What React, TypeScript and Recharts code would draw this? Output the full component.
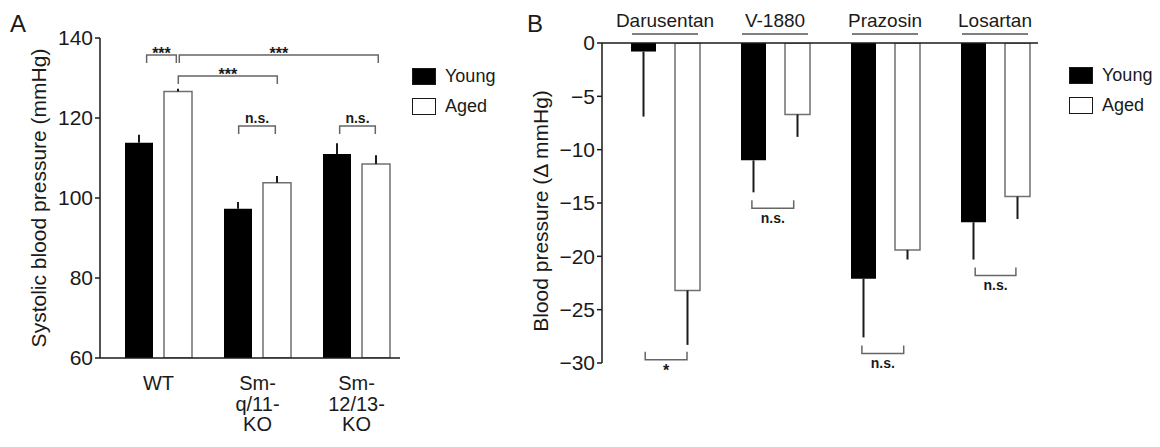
import { BarChart, Bar, XAxis, YAxis, ErrorBar, ReferenceLine, Legend } from "recharts";

const FONT = "'Liberation Sans', Arial, Helvetica, sans-serif";
const INK = "#1a1a1a";
const OUTLINE = "#707070";
const SERIES = ["Young", "Aged"];

// Panel A: systolic blood pressure, young vs aged
const groupsA = ["WT", "Sm-q/11-KO", "Sm-12/13-KO"];
const youngA = [113.8, 97.3, 111.0];
const youngSemA = [2.0, 1.7, 2.7];
const agedA = [126.6, 103.8, 108.5];
const agedSemA = [0.7, 1.7, 2.2];
const ticksA = [60, 80, 100, 120, 140];

// comparisons drawn over panel A (x in category index units, y in mmHg)
const bracketsA = [
  { from: -0.12, to: 0.18, y: 135.75, label: "***" },
  { from: 0.21, to: 2.22, y: 135.75, label: "***" },
  { from: 0.2, to: 1.2, y: 130.5, label: "***" },
  { from: 0.81, to: 1.18, y: 118, label: "n.s." },
  { from: 1.83, to: 2.19, y: 118, label: "n.s." },
];

// Panel B: change in blood pressure after each drug
const drugsB = ["Darusentan", "V-1880", "Prazosin", "Losartan"];
const youngB = [-0.8, -11.0, -22.1, -16.8];
const youngSemB = [6.1, 3.0, 5.5, 3.5];
const agedB = [-23.2, -6.7, -19.4, -14.4];
const agedSemB = [5.1, 2.1, 0.9, 2.1];
const ticksB = [0, -5, -10, -15, -20, -25, -30];

const bracketsB = [
  { from: -0.18, to: 0.2, y: -29.7, label: "*" },
  { from: 0.79, to: 1.17, y: -15.5, label: "n.s." },
  { from: 1.79, to: 2.17, y: -29.1, label: "n.s." },
  { from: 2.82, to: 3.19, y: -21.8, label: "n.s." },
];

const rowsA = groupsA.map((group, i) => ({
  group,
  young: youngA[i],
  aged: agedA[i],
  youngErr: [0, youngSemA[i]],
  agedErr: [0, agedSemA[i]],
}));

const rowsB = drugsB.map((drug, i) => ({
  drug,
  young: youngB[i],
  aged: agedB[i],
  youngErr: [youngSemB[i], 0],
  agedErr: [agedSemB[i], 0],
}));

// plot geometry: band axis padding, and the matching padding for an index axis
// whose 0..n-1 land on band centres
const PLOT_W_A = 300;
const PAD_A = { left: 9, right: -6 };
const BAND_A = (PLOT_W_A - PAD_A.left - PAD_A.right) / groupsA.length;
const PLOT_W_B = 436;
const PAD_B = { left: 8, right: -12 };
const BAND_B = (PLOT_W_B - PAD_B.left - PAD_B.right) / drugsB.length;

const axisStroke = { stroke: INK, strokeWidth: 1.5 };

function bracketShape(leg: number) {
  return (p: any) => (
    <path
      d={`M${p.x1},${p.y1 + leg}L${p.x1},${p.y1}L${p.x2},${p.y2}L${p.x2},${p.y2 + leg}`}
      fill="none"
      stroke="#666"
      strokeWidth={1.5}
    />
  );
}

function sigLabel(text: string, position: "top" | "bottom") {
  const stars = text.includes("*");
  return {
    value: text,
    position,
    offset: position === "top" ? (stars ? -4 : 3) : 5,
    fontSize: stars ? 16 : 14,
    fontWeight: 700,
    fill: INK,
  };
}

function yLabel(text: string, shift: number) {
  return ({ viewBox }: any) => {
    const cx = viewBox.x + 8;
    const cy = viewBox.y + viewBox.height / 2 + shift;
    return (
      <text
        x={cx}
        y={cy}
        transform={`rotate(-90 ${cx} ${cy})`}
        textAnchor="middle"
        dominantBaseline="central"
        fontSize={21}
        fill={INK}
      >
        {text}
      </text>
    );
  };
}

function GroupTick({ x, y, payload }: any) {
  const lines = String(payload.value).split(/(?<=-)/);
  return (
    <text x={x} y={y} textAnchor="middle" fontSize={20} fill={INK}>
      {lines.map((l, i) => (
        <tspan key={i} x={x} dy={i === 0 ? 32 : 20.5}>
          {l}
        </tspan>
      ))}
    </text>
  );
}

function DrugTick({ x, y, payload }: any) {
  return (
    <g>
      <text x={x} y={y - 16} textAnchor="middle" fontSize={19} fill={INK}>
        {payload.value}
      </text>
      <line x1={x - 33} x2={x + 33} y1={y - 9} y2={y - 9} stroke="#555" strokeWidth={1.5} />
    </g>
  );
}

const renderLegend = ({ payload }: any) => {
  const items = [...(payload || [])].sort(
    (a: any, b: any) => SERIES.indexOf(a.value) - SERIES.indexOf(b.value),
  );
  return (
    <div style={{ fontFamily: FONT, fontSize: 18, color: INK }}>
      {items.map((e: any) => (
        <div key={e.value} style={{ display: "flex", alignItems: "center", height: 30 }}>
          <span
            style={{
              display: "inline-block",
              boxSizing: "border-box",
              width: 24,
              height: 17,
              background: e.color,
              border: `1.5px solid ${INK}`,
              marginRight: 9,
            }}
          />
          {e.value}
        </div>
      ))}
    </div>
  );
};

const minusFmt = (v: number) => (v < 0 ? `\u2212${-v}` : `${v}`);

function PanelA() {
  return (
    <BarChart
      width={520}
      height={447}
      data={rowsA}
      margin={{ top: 38, right: 120, bottom: 9, left: 30 }}
      barGap={11}
    >
      <XAxis
        dataKey="group"
        height={80}
        interval={0}
        tickLine={false}
        tickSize={0}
        tickMargin={0}
        padding={PAD_A}
        axisLine={axisStroke}
        tick={(p: any) => <GroupTick {...p} />}
      />
      <XAxis
        xAxisId="n"
        type="number"
        domain={[0, groupsA.length - 1]}
        padding={{ left: PAD_A.left + BAND_A / 2, right: PAD_A.right + BAND_A / 2 }}
        allowDataOverflow
        hide
      />
      <YAxis
        domain={[60, 140]}
        ticks={ticksA}
        interval={0}
        width={70}
        tickSize={5}
        tickMargin={2}
        allowDataOverflow
        axisLine={axisStroke}
        tickLine={axisStroke}
        tick={{ fontSize: 21, fill: INK }}
        label={yLabel("Systolic blood pressure (mmHg)", 0)}
      />
      <Bar dataKey="young" name="Young" fill="#000" barSize={28} isAnimationActive={false}>
        <ErrorBar dataKey="youngErr" width={0} strokeWidth={2} stroke={INK} direction="y" />
      </Bar>
      <Bar dataKey="aged" name="Aged" fill="#fff" stroke={OUTLINE} strokeWidth={1.5} barSize={28} isAnimationActive={false}>
        <ErrorBar dataKey="agedErr" width={0} strokeWidth={2} stroke={INK} direction="y" />
      </Bar>
      {bracketsA.map((b, i) => (
        <ReferenceLine
          key={i}
          xAxisId="n"
          ifOverflow="visible"
          segment={[{ x: b.from, y: b.y }, { x: b.to, y: b.y }]}
          shape={bracketShape(8)}
          label={sigLabel(b.label, "top")}
        />
      ))}
      <Legend
        layout="vertical"
        align="center"
        verticalAlign="middle"
        content={renderLegend}
        wrapperStyle={{ left: 412, top: 61 }}
      />
    </BarChart>
  );
}

function PanelB() {
  return (
    <BarChart
      width={640}
      height={447}
      data={rowsB}
      margin={{ top: 3, right: 122, bottom: 84, left: 12 }}
      barGap={19}
    >
      <XAxis
        dataKey="drug"
        orientation="top"
        height={40}
        interval={0}
        tickLine={false}
        tickSize={0}
        tickMargin={0}
        padding={PAD_B}
        axisLine={axisStroke}
        tick={(p: any) => <DrugTick {...p} />}
      />
      <XAxis
        xAxisId="n"
        type="number"
        domain={[0, drugsB.length - 1]}
        padding={{ left: PAD_B.left + BAND_B / 2, right: PAD_B.right + BAND_B / 2 }}
        allowDataOverflow
        hide
      />
      <YAxis
        domain={[-30, 0]}
        ticks={ticksB}
        interval={0}
        width={70}
        tickSize={5}
        tickMargin={2}
        allowDataOverflow
        axisLine={axisStroke}
        tickLine={axisStroke}
        tickFormatter={minusFmt}
        tick={{ fontSize: 21, fill: INK }}
        label={yLabel("Blood pressure (\u0394 mmHg)", 8)}
      />
      <Bar dataKey="young" name="Young" fill="#000" barSize={25} isAnimationActive={false}>
        <ErrorBar dataKey="youngErr" width={0} strokeWidth={2} stroke={INK} direction="y" />
      </Bar>
      <Bar dataKey="aged" name="Aged" fill="#fff" stroke={OUTLINE} strokeWidth={1.5} barSize={25} isAnimationActive={false}>
        <ErrorBar dataKey="agedErr" width={0} strokeWidth={2} stroke={INK} direction="y" />
      </Bar>
      {bracketsB.map((b, i) => (
        <ReferenceLine
          key={i}
          xAxisId="n"
          ifOverflow="visible"
          segment={[{ x: b.from, y: b.y }, { x: b.to, y: b.y }]}
          shape={bracketShape(-8)}
          label={sigLabel(b.label, "bottom")}
        />
      ))}
      <Legend
        layout="vertical"
        align="center"
        verticalAlign="middle"
        content={renderLegend}
        wrapperStyle={{ left: 549, top: 60 }}
      />
    </BarChart>
  );
}

export default function App() {
  return (
    <div
      style={{
        position: "absolute",
        left: 0,
        top: 0,
        width: 1160,
        height: 447,
        background: "#fff",
        fontFamily: FONT,
        color: INK,
        overflow: "hidden",
      }}
    >
      <div style={{ position: "absolute", left: 0, top: 0 }}>
        <PanelA />
      </div>
      <div style={{ position: "absolute", left: 520, top: 0 }}>
        <PanelB />
      </div>
      <div style={{ position: "absolute", left: 10, top: 12, fontSize: 24, lineHeight: "24px" }}>A</div>
      <div style={{ position: "absolute", left: 527, top: 12, fontSize: 24, lineHeight: "24px" }}>B</div>
    </div>
  );
}
